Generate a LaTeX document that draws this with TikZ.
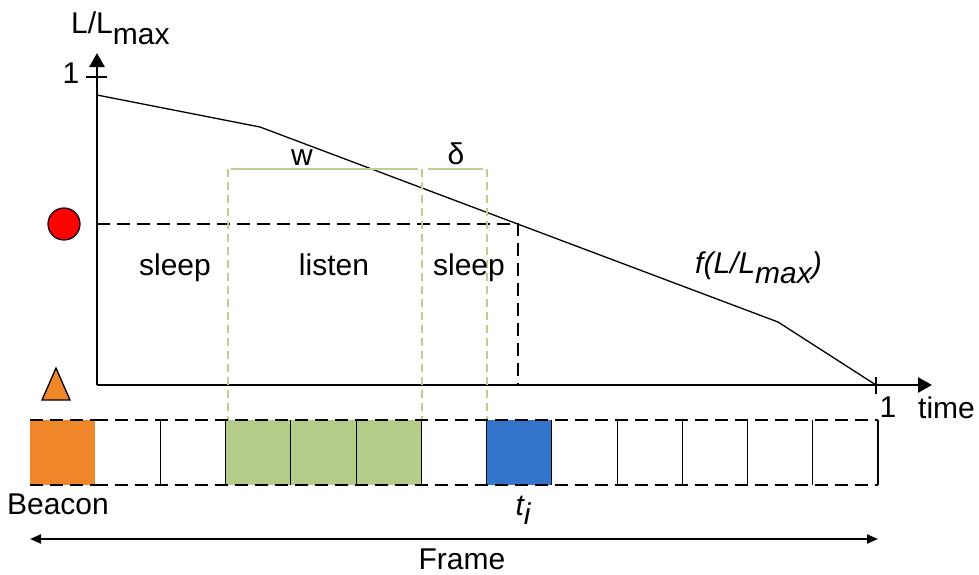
\documentclass[tikz,border=0pt]{standalone}
\usepackage{fontspec}
\setmainfont{Liberation Sans}
\usetikzlibrary{arrows.meta}
\definecolor{beaconorange}{HTML}{F0862A}
\definecolor{listengreen}{HTML}{B5CB88}
\definecolor{slotblue}{HTML}{3475CC}
\definecolor{guidegreen}{HTML}{B9D08E}
\begin{document}
\begin{tikzpicture}[x=1pt,y=-1pt,
  lbl/.style={font=\fontsize{30}{34}\selectfont, inner sep=0pt},
  axisline/.style={line width=2.6pt, -{Triangle[length=14pt,width=15pt]}},
  curveline/.style={line width=1.3pt},
  blackguide/.style={line width=1.3pt, dash pattern=on 13pt off 7pt},
  greenguide/.style={guidegreen, line width=1.2pt, dash pattern=on 8pt off 5pt},
  greenbar/.style={guidegreen, line width=1.5pt},
  cellsep/.style={line width=1.1pt},
  framearrow/.style={line width=2pt, {Triangle[length=11pt,width=9pt]}-{Triangle[length=11pt,width=9pt]}}
]
\useasboundingbox (0,0) rectangle (979,574);

% axes
\coordinate (O) at (97,385);
\coordinate (ytip) at (97,53);
\coordinate (xtip) at (932,385);
\draw[axisline] (O) -- (ytip);
\draw[axisline] (O) -- (xtip);
\coordinate (ytickL) at (86,77);
\coordinate (ytickR) at (107,77);
\draw[line width=1.8pt] (ytickL) -- (ytickR);
\coordinate (xtickT) at (876,377);
\coordinate (xtickB) at (876,394);
\draw[line width=1.3pt] (xtickT) -- (xtickB);

% curve
\coordinate (f0) at (97,95);
\coordinate (f1) at (260,127);
\coordinate (f2) at (778,322);
\coordinate (f3) at (876,385);
\draw[curveline] (f0) -- (f1) -- (f2) -- (f3);

% threshold dashed lines
\coordinate (hL) at (97,224);
\coordinate (P) at (518,224);
\coordinate (Pb) at (518,385);
\draw[blackguide] (hL) -- (P) -- (Pb);

% green guides
\foreach \n/\x in {a/228,b/422,c/487}{
  \coordinate (g\n t) at (\x,169);
  \coordinate (g\n b) at (\x,420);
  \draw[greenguide] (g\n t) -- (g\n b);
}
\coordinate (w1) at (231,169);
\coordinate (w2) at (418,169);
\coordinate (d1) at (428,169);
\coordinate (d2) at (483,169);
\draw[greenbar] (w1) -- (w2);
\draw[greenbar] (d1) -- (d2);

% markers
\node[circle, fill=red, draw=black, line width=1.2pt, minimum size=32pt, inner sep=0pt] (dot) at (64,224) {};
\coordinate (tr1) at (42,400);
\coordinate (tr2) at (70,400);
\coordinate (tr3) at (56,368);
\draw[fill=beaconorange, line width=1.3pt, line join=miter] (tr1) -- (tr2) -- (tr3) -- cycle;

% slots
\def\cw{65.23}
\foreach \i in {0,...,13}{
  \coordinate (s\i t) at ({30+\i*\cw},420);
  \coordinate (s\i b) at ({30+\i*\cw},485);
}
\fill[beaconorange] (s0t) rectangle (s1b);
\fill[listengreen] (s3t) rectangle (s6b);
\fill[slotblue] (s7t) rectangle (s8b);
\draw[blackguide] (s1t) -- (s13t);
\draw[blackguide] (s1b) -- (s13b);
\draw[blackguide] (s0t) -- (s1t);
\draw[blackguide] (s0b) -- (s1b);
\foreach \i in {2,...,13}{
  \draw[cellsep] (s\i t) -- (s\i b);
}

% frame arrow
\coordinate (frL) at (30,539);
\coordinate (frR) at (878,539);
\draw[framearrow] (frL) -- (frR);

% labels
\node[lbl, anchor=base west] (ylab) at (71,33) {L/L\raisebox{-11pt}{max}};
\node[lbl] (one) at (71,73) {1};
\node[lbl, anchor=base] (onex) at (888,417) {1};
\node[lbl, anchor=base west] (timelab) at (918,418) {time};
\node[lbl, anchor=base] (wlab) at (302,165) {w};
\node[lbl, anchor=base] (dlab) at (456,164) {δ};
\node[lbl, anchor=base] (sleep1) at (175,275) {sleep};
\node[lbl, anchor=base] (listen) at (334,275) {listen};
\node[lbl, anchor=base] (sleep2) at (469,275) {sleep};
\node[lbl, anchor=base west] (flab) at (695,273) {\itshape f(L/L\raisebox{-10pt}{max})};
\node[lbl, anchor=base] (beacon) at (58,514) {Beacon};
\node[lbl, anchor=base] (tilab) at (523,515) {\itshape t\raisebox{-9pt}{i}};
\node[lbl, anchor=base] (framelab) at (462,569) {Frame};
\end{tikzpicture}
\end{document}
